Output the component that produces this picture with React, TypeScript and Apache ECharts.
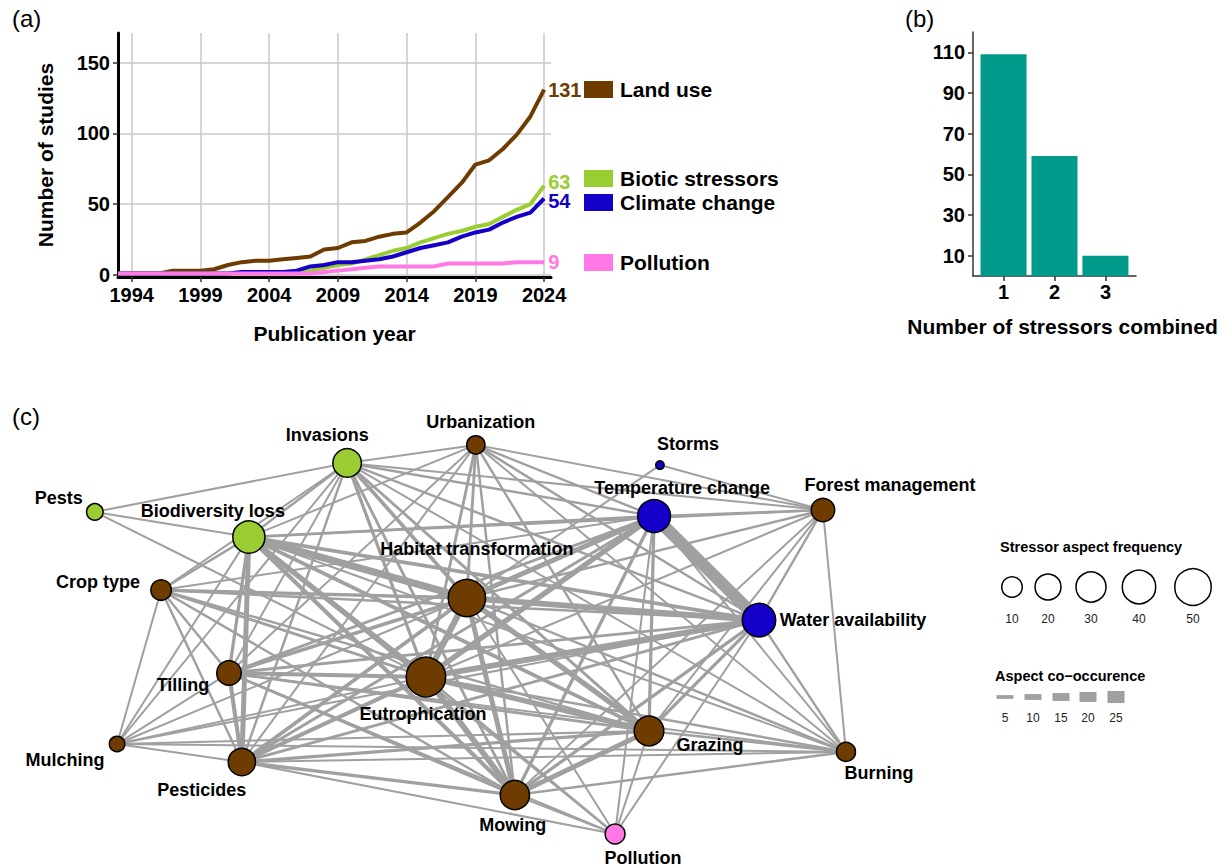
import React, { useEffect, useRef } from "react";
import * as echarts from "echarts";

const FONT = "'Liberation Sans', Arial, Helvetica, sans-serif";

// ---------- Panel (a): cumulative number of studies ----------
const years = [1993, 1994, 1995, 1996, 1997, 1998, 1999, 2000, 2001, 2002, 2003, 2004, 2005, 2006, 2007, 2008,
  2009, 2010, 2011, 2012, 2013, 2014, 2015, 2016, 2017, 2018, 2019, 2020, 2021, 2022, 2023, 2024];
const landUse = [1, 1, 1, 1, 3, 3, 3, 4, 7, 9, 10, 10, 11, 12, 13, 18, 19, 23, 24, 27, 29, 30, 37, 45, 55, 65, 78, 81, 89, 99, 112, 131];
const bioticStressors = [1, 1, 1, 1, 1, 1, 1, 1, 1, 1, 1, 1, 1, 1, 3, 5, 7, 8, 11, 14, 17, 19, 23, 26, 29, 31, 34, 36, 41, 46, 50, 63];
const climateChange = [1, 1, 1, 1, 1, 1, 1, 1, 1, 2, 2, 2, 2, 3, 6, 7, 9, 9, 10, 11, 13, 16, 19, 21, 23, 27, 30, 32, 37, 41, 44, 54];
const pollution = [1, 1, 1, 1, 1, 1, 1, 1, 1, 1, 1, 1, 1, 1, 1, 2, 3, 4, 5, 6, 6, 6, 6, 6, 8, 8, 8, 8, 8, 9, 9, 9];
const yearTicks = [1994, 1999, 2004, 2009, 2014, 2019, 2024];
const studyTicks = [0, 50, 100, 150];
const stressorNames = ["Land use", "Biotic stressors", "Climate change", "Pollution"];
const stressorColors = ["#6E3B00", "#9ACD32", "#1400C8", "#FF78E6"];

// ---------- Panel (b): number of stressors combined ----------
const combinedCategories = [1, 2, 3];
const combinedCounts = [109, 59, 10];
const combinedTicks = [10, 30, 50, 70, 90, 110];

// ---------- Panel (c): network ----------
const nodeNames = ["Pests", "Invasions", "Urbanization", "Storms", "Biodiversity loss", "Temperature change",
  "Forest management", "Crop type", "Habitat transformation", "Water availability", "Tilling", "Eutrophication",
  "Mulching", "Pesticides", "Grazing", "Burning", "Mowing", "Pollution"];
const nodeGroup = [1, 1, 0, 2, 1, 2, 0, 0, 0, 2, 0, 0, 0, 0, 0, 0, 0, 3];
const nodeFrequency = [5, 26, 7, 1, 36, 38, 15, 10, 53, 40, 17, 61, 4, 23, 29, 8, 28, 9];
// layout coordinates (network layout space)
const nodeX = [-0.962, -0.315, 0.015, 0.487, -0.567, 0.472, 0.905, -0.792, -0.008, 0.741, -0.618, -0.113, -0.905, -0.585, 0.459, 0.964, 0.115, 0.372];
const nodeY = [0.610, 0.843, 0.929, 0.833, 0.490, 0.590, 0.619, 0.238, 0.200, 0.095, -0.157, -0.176, -0.495, -0.581, -0.433, -0.533, -0.738, -0.924];
const labelOffset: [number, number][] = [[-36, -14], [-20, -28], [5, -23], [28, -21], [-36, -26], [28, -28],
  [67, -25], [-63, -8], [10, -49], [94, 0], [-46, 12], [-3, 37], [-52, 16], [-40, 28], [61, 14], [33, 21], [-2, 30], [28, 24]];

const links: [string, string, number][] = [
  ["Pests", "Invasions", 1], ["Pests", "Biodiversity loss", 1], ["Pests", "Eutrophication", 1],
  ["Invasions", "Urbanization", 1], ["Invasions", "Biodiversity loss", 2], ["Invasions", "Temperature change", 2],
  ["Invasions", "Forest management", 1], ["Invasions", "Habitat transformation", 5], ["Invasions", "Water availability", 2],
  ["Invasions", "Tilling", 1], ["Invasions", "Eutrophication", 4], ["Invasions", "Mulching", 1], ["Invasions", "Pesticides", 2],
  ["Invasions", "Grazing", 3], ["Invasions", "Mowing", 3], ["Invasions", "Crop type", 1], ["Invasions", "Burning", 1],
  ["Urbanization", "Biodiversity loss", 1], ["Urbanization", "Temperature change", 2], ["Urbanization", "Forest management", 1],
  ["Urbanization", "Habitat transformation", 3], ["Urbanization", "Water availability", 2], ["Urbanization", "Tilling", 1],
  ["Urbanization", "Eutrophication", 3], ["Urbanization", "Pesticides", 1], ["Urbanization", "Grazing", 2],
  ["Urbanization", "Mowing", 2], ["Urbanization", "Burning", 1],
  ["Storms", "Forest management", 1], ["Storms", "Habitat transformation", 1],
  ["Biodiversity loss", "Temperature change", 3], ["Biodiversity loss", "Forest management", 1], ["Biodiversity loss", "Crop type", 2],
  ["Biodiversity loss", "Habitat transformation", 13], ["Biodiversity loss", "Water availability", 5], ["Biodiversity loss", "Tilling", 4],
  ["Biodiversity loss", "Eutrophication", 9], ["Biodiversity loss", "Mulching", 1], ["Biodiversity loss", "Pesticides", 8],
  ["Biodiversity loss", "Grazing", 5], ["Biodiversity loss", "Mowing", 6], ["Biodiversity loss", "Burning", 1],
  ["Biodiversity loss", "Pollution", 1],
  ["Temperature change", "Forest management", 2], ["Temperature change", "Habitat transformation", 8],
  ["Temperature change", "Water availability", 25], ["Temperature change", "Tilling", 3], ["Temperature change", "Eutrophication", 9],
  ["Temperature change", "Pesticides", 3], ["Temperature change", "Grazing", 4], ["Temperature change", "Mowing", 4],
  ["Temperature change", "Crop type", 1], ["Temperature change", "Burning", 1], ["Temperature change", "Pollution", 1],
  ["Forest management", "Water availability", 2], ["Forest management", "Habitat transformation", 2],
  ["Forest management", "Eutrophication", 1], ["Forest management", "Grazing", 1], ["Forest management", "Mowing", 1],
  ["Forest management", "Burning", 1],
  ["Crop type", "Habitat transformation", 4], ["Crop type", "Eutrophication", 3], ["Crop type", "Water availability", 2],
  ["Crop type", "Tilling", 2], ["Crop type", "Pesticides", 2], ["Crop type", "Mulching", 1], ["Crop type", "Grazing", 2],
  ["Crop type", "Mowing", 2],
  ["Habitat transformation", "Water availability", 10], ["Habitat transformation", "Tilling", 5],
  ["Habitat transformation", "Eutrophication", 11], ["Habitat transformation", "Mulching", 1],
  ["Habitat transformation", "Pesticides", 5], ["Habitat transformation", "Grazing", 9], ["Habitat transformation", "Burning", 2],
  ["Habitat transformation", "Mowing", 8], ["Habitat transformation", "Pollution", 1],
  ["Water availability", "Tilling", 3], ["Water availability", "Eutrophication", 10], ["Water availability", "Mulching", 1],
  ["Water availability", "Pesticides", 3], ["Water availability", "Grazing", 4], ["Water availability", "Burning", 2],
  ["Water availability", "Mowing", 4], ["Water availability", "Pollution", 1],
  ["Tilling", "Eutrophication", 6], ["Tilling", "Mulching", 1], ["Tilling", "Pesticides", 6], ["Tilling", "Grazing", 3],
  ["Tilling", "Burning", 1], ["Tilling", "Mowing", 3], ["Tilling", "Pollution", 1],
  ["Eutrophication", "Mulching", 1], ["Eutrophication", "Pesticides", 6], ["Eutrophication", "Grazing", 9],
  ["Eutrophication", "Burning", 2], ["Eutrophication", "Mowing", 10], ["Eutrophication", "Pollution", 2],
  ["Mulching", "Pesticides", 1], ["Mulching", "Grazing", 1], ["Mulching", "Burning", 1],
  ["Pesticides", "Grazing", 4], ["Pesticides", "Burning", 1], ["Pesticides", "Mowing", 4], ["Pesticides", "Pollution", 1],
  ["Grazing", "Burning", 2], ["Grazing", "Mowing", 8], ["Grazing", "Pollution", 1],
  ["Mowing", "Burning", 2], ["Mowing", "Pollution", 1],
];

const sizeLegendValues = [10, 20, 30, 40, 50];
const widthLegendValues = [5, 10, 15, 20, 25];

const nodeRadius = (v: number) => 5 + 2 * Math.sqrt(Math.max(v - 1, 0));
const edgeWidth = (v: number) => 1.6 + 0.42 * v;
const EDGE_COLOR = "#A0A0A0";

export default function App() {
  const ref = useRef<HTMLDivElement>(null);

  useEffect(() => {
    if (!ref.current) return;
    const chart = echarts.init(ref.current, undefined, { renderer: "svg" });

    const boldText = (size: number) => ({ fontFamily: FONT, fontWeight: "bold" as const, fontSize: size, color: "#000" });

    const seriesData = [landUse, bioticStressors, climateChange, pollution];
    const endLabelOffsets: [number, number][] = [[0, 0], [0, -4], [0, 3], [0, 0]];
    const lineSeries = stressorNames.map((name, i) => ({
      type: "line",
      name,
      xAxisIndex: 0,
      yAxisIndex: 0,
      data: years.map((y, j) => [y, seriesData[i][j]]),
      showSymbol: false,
      symbol: "none",
      lineStyle: { color: stressorColors[i], width: 4 },
      itemStyle: { color: stressorColors[i] },
      endLabel: {
        show: true,
        formatter: (p: any) => String(p.value[1]),
        color: stressorColors[i],
        fontFamily: FONT,
        fontSize: 20,
        fontWeight: "bold",
        distance: 4,
        offset: endLabelOffsets[i],
      },
      z: 3 + i,
    }));

    const legendTops = [79, 168, 192, 252];
    const legends = stressorNames.map((name, i) => ({
      data: [name],
      left: 584,
      top: legendTops[i],
      padding: 0,
      itemGap: 0,
      itemWidth: 29,
      itemHeight: 17,
      icon: "rect",
      selectedMode: false,
      textStyle: { ...boldText(21), padding: [0, 0, 0, 2] },
    }));

    const sizeLegendX = [1012, 1048, 1091, 1139, 1193];
    const widthLegendX = [1005, 1033, 1061, 1088, 1116];

    const graphic: any[] = [
      { type: "text", left: 12, top: 6, style: { text: "(a)", font: `24px ${FONT}`, fill: "#000" } },
      { type: "text", left: 905, top: 6, style: { text: "(b)", font: `24px ${FONT}`, fill: "#000" } },
      { type: "text", left: 12, top: 404, style: { text: "(c)", font: `24px ${FONT}`, fill: "#000" } },
      { type: "text", left: 1000, top: 539, style: { text: "Stressor aspect frequency", font: `bold 14.5px ${FONT}`, fill: "#000" } },
      { type: "text", left: 995, top: 668, style: { text: "Aspect co\u2212occurence", font: `bold 14.5px ${FONT}`, fill: "#000" } },
    ];
    sizeLegendValues.forEach((v, i) => {
      graphic.push({
        type: "circle",
        shape: { cx: sizeLegendX[i], cy: 587, r: nodeRadius(v) - 0.75 },
        style: { fill: "#fff", stroke: "#000", lineWidth: 1.5 },
      });
      graphic.push({
        type: "text",
        x: sizeLegendX[i],
        y: 619,
        style: { text: String(v), font: `12px ${FONT}`, fill: "#222", align: "center", verticalAlign: "middle" },
      });
    });
    widthLegendValues.forEach((v, i) => {
      const h = edgeWidth(v);
      graphic.push({
        type: "rect",
        shape: { x: widthLegendX[i] - 8.5, y: 697 - h / 2, width: 17, height: h },
        style: { fill: EDGE_COLOR },
      });
      graphic.push({
        type: "text",
        x: widthLegendX[i],
        y: 718,
        style: { text: String(v), font: `12px ${FONT}`, fill: "#222", align: "center", verticalAlign: "middle" },
      });
    });

    const groupColors = ["#6E3B00", "#9ACD32", "#1400C8", "#FF78E6"];

    const option: any = {
      animation: false,
      textStyle: { fontFamily: FONT },
      grid: [
        { left: 118, top: 33, width: 433, height: 244 },
        { left: 973, top: 32, width: 163, height: 244 },
        { left: 80, top: 430, width: 780, height: 420 },
      ],
      legend: legends,
      xAxis: [
        {
          gridIndex: 0,
          type: "value",
          min: 1993,
          max: 2024.5,
          name: "Publication year",
          nameLocation: "middle",
          nameGap: 46,
          nameTextStyle: boldText(21),
          axisLine: { show: true, onZero: false, lineStyle: { color: "#000", width: 3 } },
          axisTick: { show: true, customValues: yearTicks, length: 5, lineStyle: { color: "#333", width: 1.5 } },
          axisLabel: { customValues: yearTicks, formatter: (v: number) => String(v), ...boldText(20), margin: 8 },
          splitLine: { show: true, lineStyle: { color: "#C8C8C8", width: 1.5 } },
        },
        {
          gridIndex: 1,
          type: "value",
          min: 0.4,
          max: 3.6,
          name: "Number of stressors combined",
          nameLocation: "middle",
          nameGap: 40,
          nameTextStyle: { ...boldText(21), padding: [0, 0, 0, 16] },
          axisLine: { show: true, onZero: false, lineStyle: { color: "#333", width: 1.5 } },
          axisTick: { show: true, customValues: combinedCategories, length: 5, lineStyle: { color: "#333", width: 1.5 } },
          axisLabel: { customValues: combinedCategories, formatter: (v: number) => String(v), ...boldText(20), margin: 6 },
          splitLine: { show: false },
        },
        { gridIndex: 2, type: "value", min: -1, max: 1, show: false },
      ],
      yAxis: [
        {
          gridIndex: 0,
          type: "value",
          min: -1.5,
          max: 171,
          name: "Number of studies",
          nameLocation: "middle",
          nameGap: 62,
          nameRotate: 90,
          nameTextStyle: boldText(21),
          axisLine: { show: true, onZero: false, lineStyle: { color: "#000", width: 3 } },
          axisTick: { show: true, customValues: studyTicks, length: 5, lineStyle: { color: "#333", width: 1.5 } },
          axisLabel: { customValues: studyTicks, formatter: (v: number) => String(v), ...boldText(20), margin: 8 },
          splitLine: { show: true, lineStyle: { color: "#C8C8C8", width: 1.5 } },
        },
        {
          gridIndex: 1,
          type: "value",
          min: 0,
          max: 120,
          axisLine: { show: true, onZero: false, lineStyle: { color: "#333", width: 1.5 } },
          axisTick: { show: true, customValues: combinedTicks, length: 5, lineStyle: { color: "#333", width: 1.5 } },
          axisLabel: { customValues: combinedTicks, formatter: (v: number) => String(v), ...boldText(20), margin: 8 },
          splitLine: { show: false },
        },
        { gridIndex: 2, type: "value", min: -1, max: 1, show: false },
      ],
      series: [
        ...lineSeries,
        {
          type: "bar",
          xAxisIndex: 1,
          yAxisIndex: 1,
          data: combinedCategories.map((c, i) => [c, combinedCounts[i]]),
          barWidth: 46,
          itemStyle: { color: "#00998A" },
        },
        {
          type: "graph",
          coordinateSystem: "cartesian2d",
          xAxisIndex: 2,
          yAxisIndex: 2,
          symbol: "circle",
          roam: false,
          data: nodeNames.map((n, i) => ({
            name: n,
            value: [nodeX[i], nodeY[i]],
            symbolSize: 2 * nodeRadius(nodeFrequency[i]) - 1.5,
            itemStyle: { color: groupColors[nodeGroup[i]] },
            label: { offset: labelOffset[i] },
          })),
          links: links.map(([s, t, w]) => ({ source: s, target: t, value: w, lineStyle: { width: edgeWidth(w) } })),
          itemStyle: { borderColor: "#000", borderWidth: 1.5 },
          lineStyle: { color: EDGE_COLOR, opacity: 1, curveness: 0 },
          label: { show: true, position: "inside", ...boldText(18) },
          emphasis: { disabled: true },
        },
      ],
      graphic,
    };

    chart.setOption(option);
    return () => chart.dispose();
  }, []);

  return <div ref={ref} style={{ position: "absolute", left: 0, top: 0, width: 1225, height: 867 }} />;
}
